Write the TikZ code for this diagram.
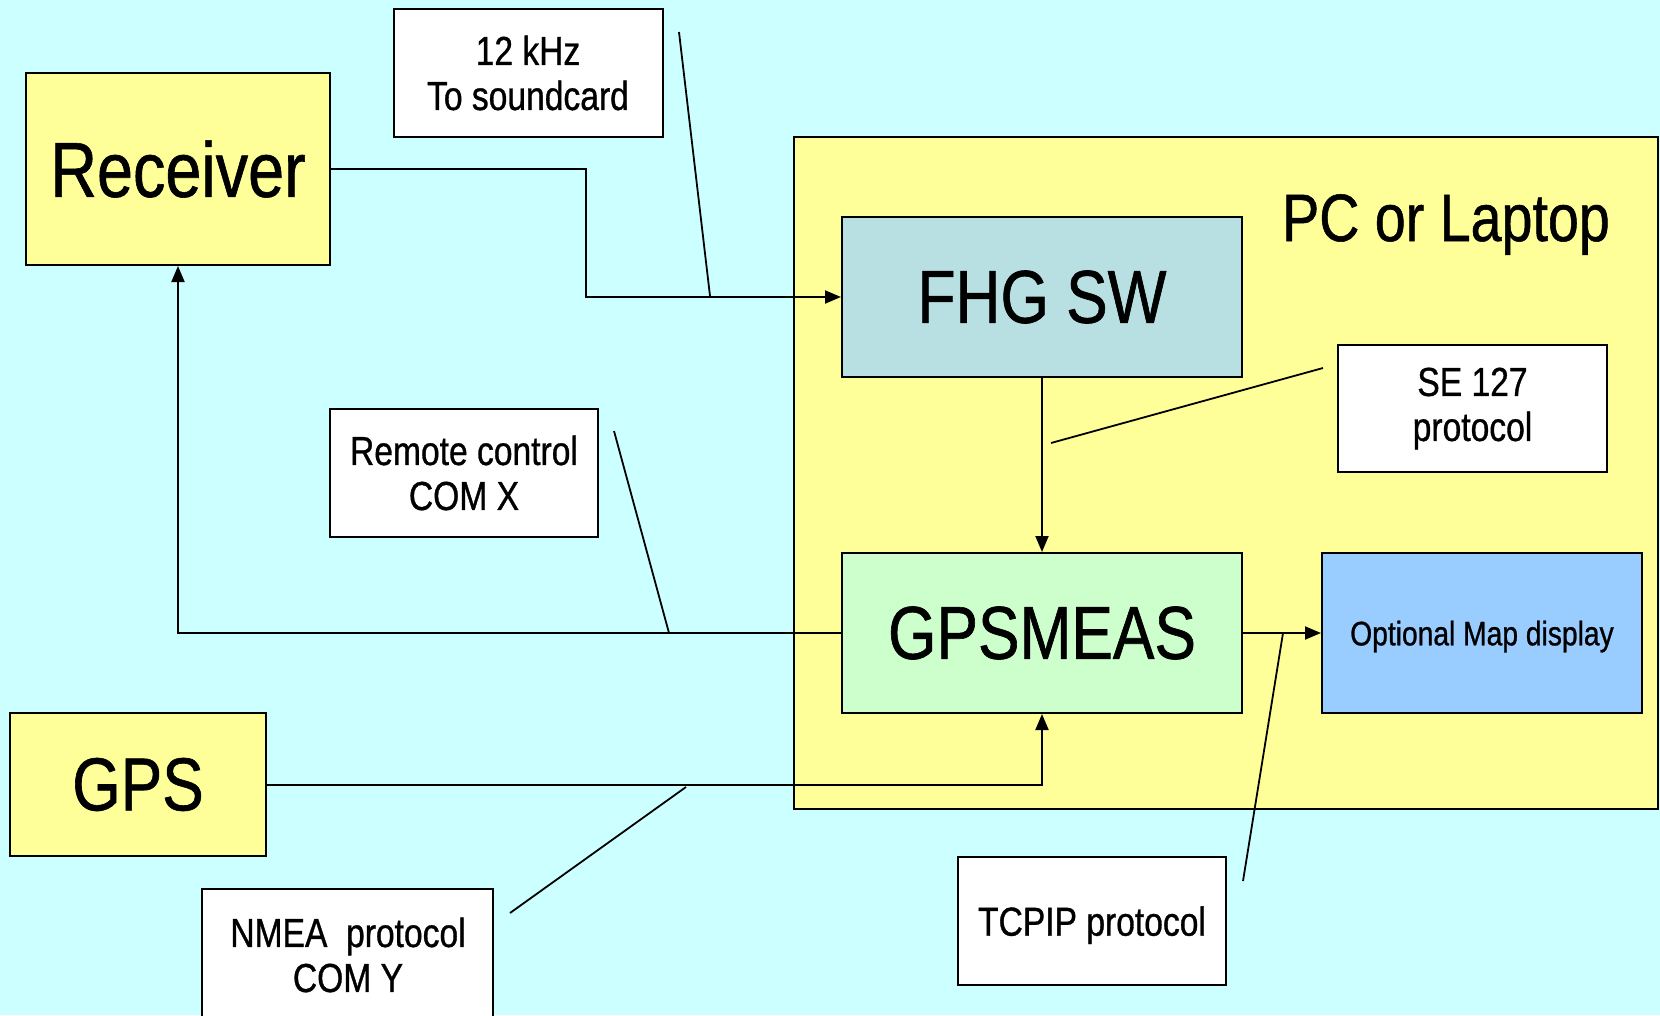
\documentclass[tikz,border=0pt]{standalone}
\usepackage{fontspec}
\setmainfont{Liberation Sans}[FakeStretch=0.83,FakeBold=0.8]
\usetikzlibrary{arrows.meta}
\definecolor{bgcyan}{HTML}{CCFFFF}
\definecolor{boxyellow}{HTML}{FFFF99}
\definecolor{fhgcol}{HTML}{B8E0E3}
\definecolor{gpsmcol}{HTML}{CCFFCC}
\definecolor{mapcol}{HTML}{99CCFF}
\tikzset{
  blk/.style={draw=black, line width=2pt, rectangle, inner sep=0pt, align=center},
  bigtxt/.style={font=\fontsize{75}{88}\selectfont},
  calltxt/.style={font=\fontsize{40.5}{45}\selectfont},
  conn/.style={draw=black, line width=2pt},
  arr/.style={conn, -{Triangle[length=16pt,width=13pt]}},
  callline/.style={draw=black, line width=1.8pt},
}
\begin{document}
\begin{tikzpicture}[x=1pt,y=-1pt]
\useasboundingbox (0,0) rectangle (1660,1015);
\fill[bgcyan] (0,0) rectangle (1660,1015);
\begin{scope}
\clip (0,0) rectangle (1660,1015);
% PC box
\node[blk, fill=boxyellow, minimum width=864pt, minimum height=672pt] (pc) at (1226,473) {};
\node[anchor=base, font=\fontsize{67}{72}\selectfont] (pclabel) at (1446,241) {PC or Laptop};
% blocks
\node[blk, fill=boxyellow, font=\fontsize{78}{90}\selectfont, minimum width=304pt, minimum height=192pt] (rec) at (178,169) {Receiver};
\node[blk, fill=fhgcol, bigtxt, minimum width=400pt, minimum height=160pt] (fhg) at (1042,297) {FHG SW};
\node[blk, fill=gpsmcol, bigtxt, minimum width=400pt, minimum height=160pt] (gpsm) at (1042,633) {GPSMEAS};
\node[blk, fill=mapcol, font=\fontsize{34}{40}\selectfont, text depth=0pt, minimum width=320pt, minimum height=160pt] (map) at (1482,633) {Optional Map display};
\node[blk, fill=boxyellow, bigtxt, minimum width=256pt, minimum height=143pt] (gps) at (138,784.5) {GPS};
% callout boxes
\node[blk, fill=white, calltxt, minimum width=269pt, minimum height=128pt] (khz) at (528,73) {12 kHz\\To soundcard};
\node[blk, fill=white, calltxt, minimum width=268pt, minimum height=128pt] (rc) at (464,473) {Remote control\\COM X};
\node[blk, fill=white, calltxt, minimum width=269pt, minimum height=127pt] (se) at (1472.5,408.5) {SE 127\\protocol};
\node[blk, fill=white, calltxt, text depth=0pt, minimum width=268pt, minimum height=128pt] (tcp) at (1092,921) {TCPIP protocol};
\draw[line width=2pt, fill=white] (202,889) rectangle (493,1040);
\node[calltxt, align=center] (nmea) at (348,955) {NMEA\ \ protocol\\COM Y};
% connectors
\draw[arr] (rec.east) -- ++(255,0) |- (fhg.west);
\draw[arr] (fhg.south) -- (gpsm.north);
\draw[arr] (gpsm.west) -| (rec.south);
\draw[arr] (gps.east) -| (gpsm.south);
\draw[arr] (gpsm.east) -- (map.west);
% callout lines
\coordinate (c1a) at (679,32);  \coordinate (c1b) at (710,296);
\coordinate (c2a) at (614,431); \coordinate (c2b) at (669,633);
\coordinate (c3a) at (1323,368); \coordinate (c3b) at (1051,443);
\coordinate (c4a) at (510,913); \coordinate (c4b) at (686,787);
\coordinate (c5a) at (1243,881); \coordinate (c5b) at (1283,633);
\draw[callline] (c1a) -- (c1b);
\draw[callline] (c2a) -- (c2b);
\draw[callline] (c3a) -- (c3b);
\draw[callline] (c4a) -- (c4b);
\draw[callline] (c5a) -- (c5b);
\end{scope}
\end{tikzpicture}
\end{document}
